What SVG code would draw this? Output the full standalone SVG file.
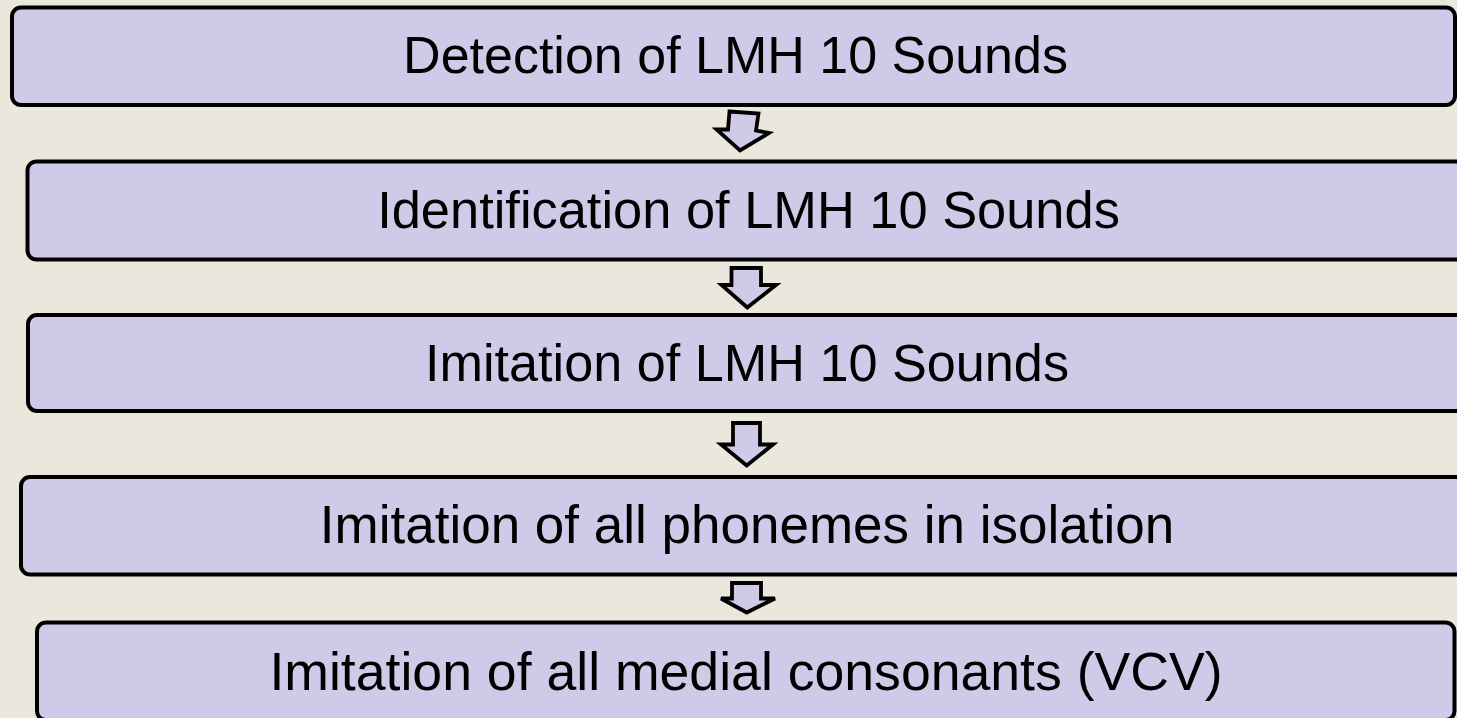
<svg xmlns="http://www.w3.org/2000/svg" width="1457" height="718" viewBox="0 0 1457 718">
  <style>
    .box { fill: #CECAE8; stroke: #000; stroke-width: 4; }
    .arrow { fill: #CECAE8; stroke: #000; stroke-width: 3.8; stroke-linejoin: miter; }
    .label { font-family: "Liberation Sans", Arial, sans-serif; fill: #000; text-anchor: middle; }
  </style>
  <rect x="0" y="0" width="1457" height="718" fill="#EBE7DD"/>

  <!-- downward block arrows between the stages -->
  <g id="connectors">
    <polygon class="arrow" points="729.5,111.5 758.5,113.5 756,130.5 769,133 740,150.5 716.5,129.5 728,129.5"/>
    <polygon class="arrow" points="731.5,268 761,268 761,285 776,285 747.3,307.5 721.5,285 731.5,285"/>
    <polygon class="arrow" points="733,423 760,423 760,444.5 773,444.5 746.7,465.5 721,444.5 733,444.5"/>
    <polygon class="arrow" points="732,583 761,583 761,598.5 775,598.5 746.7,612.5 721,598.5 732,598.5"/>
  </g>

  <g id="node-detection">
    <rect class="box" x="12" y="7.5" width="1443" height="97.5" rx="9"/>
    <text class="label" x="735.5" y="73" font-size="52">Detection of LMH 10 Sounds</text>
  </g>
  <g id="node-identification">
    <rect class="box" x="27.5" y="161.5" width="1445" height="98" rx="9"/>
    <text class="label" x="748.5" y="228" font-size="52.4">Identification of LMH 10 Sounds</text>
  </g>
  <g id="node-imitation-lmh">
    <rect class="box" x="28" y="315" width="1445" height="96" rx="9"/>
    <text class="label" x="747" y="381" font-size="52.2">Imitation of LMH 10 Sounds</text>
  </g>
  <g id="node-imitation-phonemes">
    <rect class="box" x="21" y="477" width="1452" height="97.5" rx="9"/>
    <text class="label" x="747" y="543" font-size="53">Imitation of all phonemes in isolation</text>
  </g>
  <g id="node-imitation-vcv">
    <rect class="box" x="37" y="622.5" width="1417.5" height="97.5" rx="9"/>
    <text class="label" x="746" y="690" font-size="53.6">Imitation of all medial consonants (VCV)</text>
  </g>
</svg>
